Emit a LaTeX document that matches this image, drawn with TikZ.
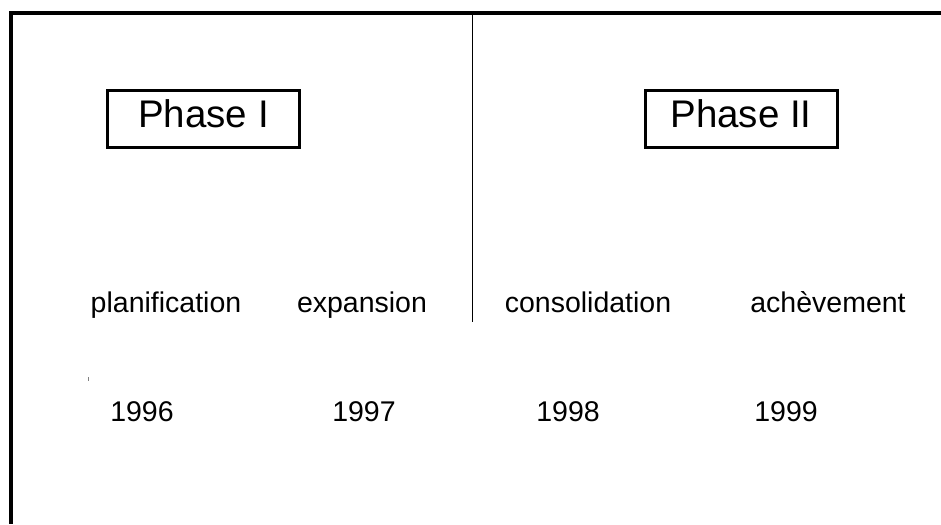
\documentclass[tikz,border=0pt]{standalone}
\usepackage{fontspec}
\setmainfont{Liberation Sans}
\begin{document}
\begin{tikzpicture}[x=1pt,y=-1pt,line join=miter,
	phase/.style={draw,line width=3pt,minimum width=192pt,inner sep=0pt,
		text height=36.5pt,text depth=20.5pt,anchor=base,
		font=\fontsize{38.5}{40}\selectfont},
	lab/.style={anchor=base,font=\fontsize{28.5}{30}\selectfont}]
	\useasboundingbox (0,0) rectangle (941,524);
	\path
	(941,13.5)coordinate(TR)
	(11,13.5)coordinate(TL)
	(11,524)coordinate(BL)
	(472,14)coordinate(M)
	(472,322)coordinate(N)
	;
	\draw[line width=4pt] (TR)--(TL)--(BL);
	\draw[line width=1pt] (M)--(N);
	\node[phase] (p1) at (203.5,127) {Phase I};
	\node[phase] (p2) at (741,127) {Phase II};
	\foreach \n/\x/\t in {plan/166/planification,exp/362/expansion,cons/588/consolidation,ach/828/achèvement}
	\node[lab] (\n) at (\x,312) {\t};
	\foreach \y/\x in {1996/142,1997/364,1998/568,1999/786}
	\node[lab] (y\y) at (\x,421) {\y};
	\draw[line width=1pt,gray] (88,377)--(88,381);
\end{tikzpicture}
\end{document}
